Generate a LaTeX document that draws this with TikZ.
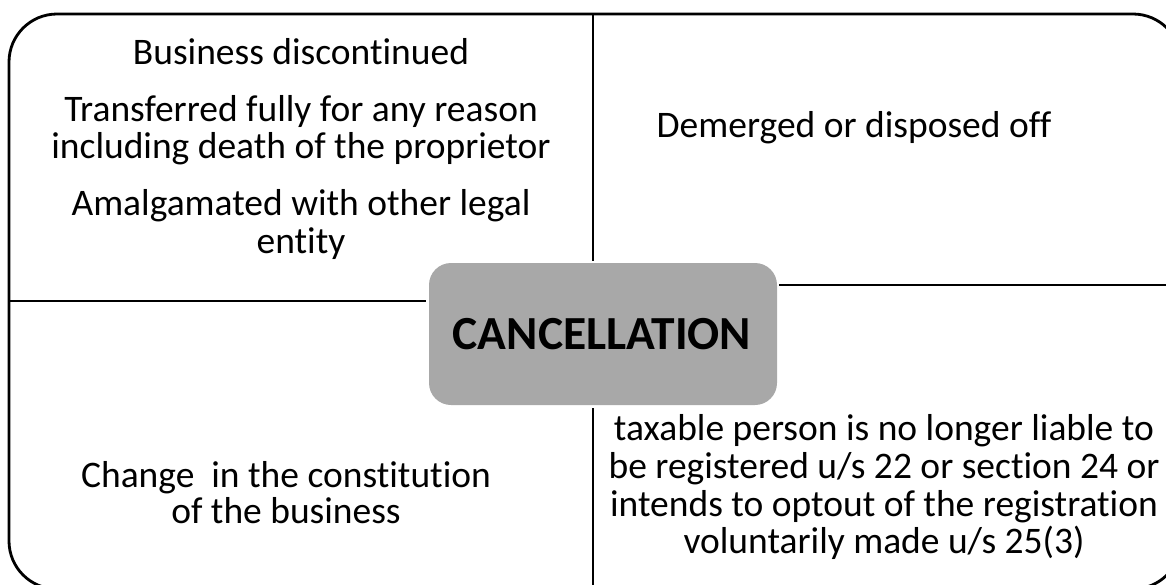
\documentclass[tikz,border=0pt]{standalone}
\usepackage{fontspec}
\setmainfont{Carlito}[Ligatures=NoCommon]
\begin{document}
\begin{tikzpicture}[x=1pt,y=-1pt,
  divider/.style={line width=2.8pt,black},
  txt/.style={anchor=base,inner sep=0pt,font=\fontsize{37.5}{38}\selectfont},
  hub/.style={fill=boxgray,rounded corners=22pt,draw=none}]
\definecolor{boxgray}{RGB}{168,168,168}
\useasboundingbox (0,0) rectangle (1166,584);
\clip (0,0) rectangle (1166,584);
% outer frame
\draw[divider,rounded corners=48pt] (9,14) rectangle (1181,589);
% dividers
\coordinate (vtop) at (593,14);
\coordinate (vtopend) at (593,261);
\coordinate (vbot) at (593,408);
\coordinate (vbotend) at (593,589);
\coordinate (hl) at (9,301);
\coordinate (hlend) at (426,301);
\coordinate (hr) at (779,285);
\coordinate (hrend) at (1181,285);
\draw[divider] (vtop) -- (vtopend);
\draw[divider] (vbot) -- (vbotend);
\draw[divider] (hl) -- (hlend);
\draw[divider] (hr) -- (hrend);
% central box
\path[hub] (429,263) rectangle (777,405);
\node[anchor=base,inner sep=0pt,font=\fontsize{47.5}{50}\selectfont\bfseries] (hubtext) at (602,349) {CANCELLATION};
% top-left
\node[txt] (tl1) at (301,64) {Business discontinued};
\node[txt] (tl2) at (301,121) {Transferred fully for any reason};
\node[txt] (tl3) at (301,158) {including death of the proprietor};
\node[txt] (tl4) at (301,215) {Amalgamated with other legal};
\node[txt] (tl5) at (301,253) {entity};
% top-right
\node[txt] (tr1) at (854,137) {Demerged or disposed off};
% bottom-left
\node[txt] (bl1) at (286,487) {Change\ \ in the constitution};
\node[txt] (bl2) at (286,523) {of the business};
% bottom-right
\node[txt] (br1) at (884,440) {taxable person is no longer liable to};
\node[txt] (br2) at (884,478) {be registered u/s 22 or section 24 or};
\node[txt] (br3) at (884,516) {intends to optout of the registration};
\node[txt] (br4) at (884,553) {voluntarily made u/s 25(3)};
\end{tikzpicture}
\end{document}
